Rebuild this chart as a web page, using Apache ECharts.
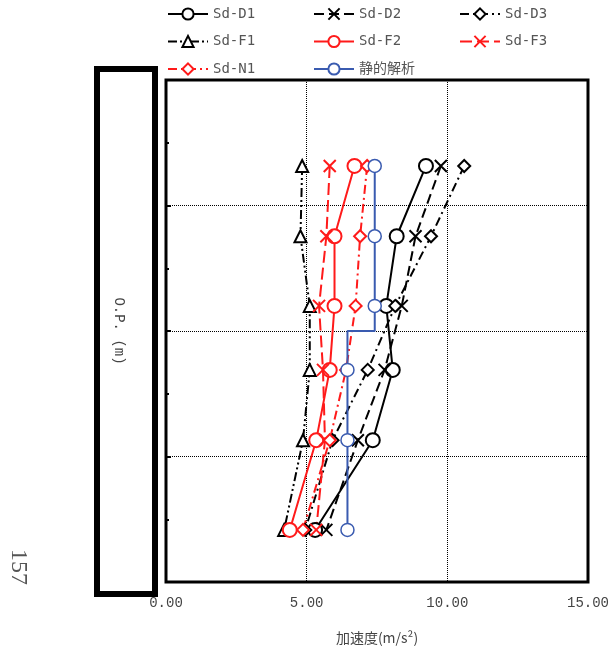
<!DOCTYPE html>
<html>
<head>
<meta charset="utf-8">
<script src="https://cdn.jsdelivr.net/npm/echarts@6/dist/echarts.min.js"></script>
<style>
  html, body { margin: 0; padding: 0; background: #fff; }
  #chart { width: 612px; height: 652px; }
</style>
</head>
<body>
<div id="chart"></div>
<script>
// O.P. levels of the six points, top to bottom
const levels = [6.63, 5.51, 4.40, 3.38, 2.26, 0.83];

// acceleration (m/s2) per level
const sdD1 = [9.24, 8.20, 7.83, 8.06, 7.35, 5.30];
const sdD2 = [9.77, 8.87, 8.38, 7.77, 6.82, 5.70];
const sdD3 = [10.60, 9.42, 8.15, 7.17, 5.92, 4.95];
const sdF1 = [4.84, 4.78, 5.11, 5.11, 4.87, 4.20];
const sdF2 = [6.70, 5.99, 5.99, 5.82, 5.34, 4.40];
const sdF3 = [5.82, 5.70, 5.44, 5.58, 5.65, 5.34];
const sdN1 = [7.15, 6.90, 6.74, 6.40, 5.82, 4.87];
const staticVals = [7.42, 7.42, 7.42, 6.45, 6.45, 6.45];
const staticStepLevel = 4.0; // the static line steps here

const xTicks = [0, 5, 10, 15];

const black = '#000000';
const red = '#ff1a1a';
const blue = '#3a5bb0';
const xPath = 'path://M0,0L10,10M10,0L0,10';

function pts(vals) {
  return vals.map((v, i) => [v, levels[i]]);
}

function staticPts() {
  const out = [];
  staticVals.forEach((v, i) => {
    out.push([v, levels[i]]);
    if (i < staticVals.length - 1 && levels[i] > staticStepLevel && levels[i + 1] < staticStepLevel) {
      out.push({ value: [v, staticStepLevel], symbol: 'none' });
      out.push({ value: [staticVals[i + 1], staticStepLevel], symbol: 'none' });
    }
  });
  return out;
}

function mk(name, vals, color, symbol, size, dash, lw) {
  return {
    name,
    type: 'line',
    data: Array.isArray(vals[0]) || typeof vals[0] === 'object' ? vals : pts(vals),
    symbol,
    symbolSize: size,
    showAllSymbol: true,
    lineStyle: { color, width: lw || 2, type: dash },
    itemStyle: { color: '#fff', borderColor: color, borderWidth: 2 },
    emphasis: { disabled: true },
    animation: false
  };
}

const legendText = { fontFamily: 'DejaVu Sans Mono, Noto Sans CJK JP', fontSize: 14, color: '#555' };
const legendBase = {
  orient: 'vertical', top: 7, padding: 0, itemWidth: 40, itemHeight: 14, itemGap: 13.5,
  textStyle: legendText, selectedMode: false
};

const chart = echarts.init(document.getElementById('chart'));
chart.setOption({
  animation: false,
  backgroundColor: '#fff',
  grid: {
    left: 166, right: 24, top: 80, bottom: 70,
    show: true, borderColor: '#000', borderWidth: 3, backgroundColor: 'transparent'
  },
  legend: [
    Object.assign({}, legendBase, { left: 167, data: ['Sd-D1', 'Sd-F1', 'Sd-N1'] }),
    Object.assign({}, legendBase, { left: 313, data: ['Sd-D2', 'Sd-F2', '静的解析'] }),
    Object.assign({}, legendBase, { left: 459, data: ['Sd-D3', 'Sd-F3'] })
  ],
  xAxis: {
    type: 'value', min: xTicks[0], max: xTicks[xTicks.length - 1], interval: 5,
    axisLine: { show: false },
    axisTick: { show: false },
    splitLine: { show: true, lineStyle: { color: '#000', type: 'dotted', width: 1 } },
    axisLabel: {
      formatter: v => v.toFixed(2), margin: 14,
      fontFamily: 'Liberation Mono', fontSize: 14, color: '#444'
    },
    name: '加速度(m/s²)', nameLocation: 'middle', nameGap: 49,
    nameTextStyle: { fontFamily: 'Noto Sans CJK JP', fontSize: 14, color: '#444' }
  },
  yAxis: {
    type: 'value', min: 0, max: 8, interval: 2,
    axisLine: { show: false },
    axisLabel: { show: false },
    axisTick: { show: true, inside: true, length: 5, lineStyle: { color: '#000', width: 2 } },
    minorTick: { show: true, splitNumber: 2, length: 3, lineStyle: { color: '#000', width: 2 } },
    splitLine: { show: true, lineStyle: { color: '#000', type: 'dotted', width: 1 } },
    name: 'O.P. (m)', nameLocation: 'middle', nameRotate: -90, nameGap: 40,
    nameTextStyle: { fontFamily: 'Liberation Mono', fontSize: 14, color: '#444' }
  },
  graphic: [
    {
      type: 'rect', z: -1,
      shape: { x: 97, y: 69, width: 58, height: 525 },
      style: { fill: '#fff', stroke: '#000', lineWidth: 6 }
    },
    {
      type: 'text', x: 18, y: 567, rotation: -Math.PI / 2,
      style: {
        text: '157', font: '24px "Liberation Serif"', fill: '#555',
        align: 'center', verticalAlign: 'middle'
      }
    }
  ],
  series: [
    mk('Sd-D1', sdD1, black, 'circle', 14, 'solid'),
    mk('Sd-D2', sdD2, black, xPath, 12, [10, 5]),
    mk('Sd-D3', sdD3, black, 'diamond', 12, [9, 4, 2, 4]),
    mk('Sd-F1', sdF1, black, 'triangle', 12, [9, 3, 2, 3, 2, 3]),
    mk('Sd-F2', sdF2, red, 'circle', 14, 'solid'),
    mk('Sd-F3', sdF3, red, xPath, 12, [12, 5]),
    mk('Sd-N1', sdN1, red, 'diamond', 12, [9, 4, 2, 4]),
    Object.assign(mk('静的解析', staticPts(), blue, 'circle', 13, 'solid'),
      { itemStyle: { color: '#fff', borderColor: blue, borderWidth: 1.5 } })
  ]
});
</script>
</body>
</html>
